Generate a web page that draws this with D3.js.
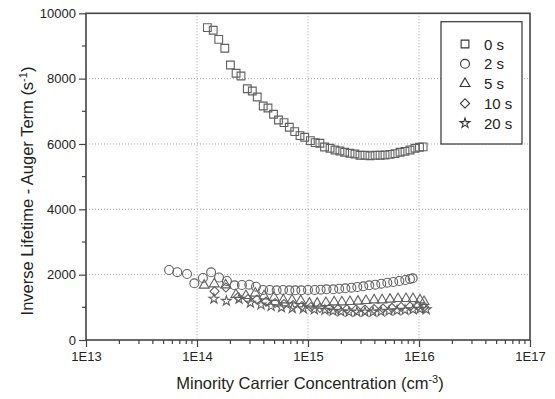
<!DOCTYPE html>
<html><head><meta charset="utf-8">
<script src="https://cdn.jsdelivr.net/npm/d3@7"></script>
<style>
html,body{margin:0;padding:0;background:#fff;}
svg text{font-family:"Liberation Sans",Arial,sans-serif;fill:#222;}
</style></head>
<body><svg id="c" width="555" height="399"></svg>
<script>
// ---- data ----
const xTicks = [1e13, 1e14, 1e15, 1e16, 1e17];
const xTickLabels = ["1E13", "1E14", "1E15", "1E16", "1E17"];
const yTicks = [0, 2000, 4000, 6000, 8000, 10000];
const seriesNames = ["0 s", "2 s", "5 s", "10 s", "20 s"];

const s0x = [1.24e14,1.40e14,1.57e14,1.78e14,2.00e14,2.25e14,2.49e14,2.84e14,3.15e14,3.49e14,3.95e14,4.36e14,4.89e14,5.42e14,6.08e14,6.79e14,7.59e14,8.47e14,9.34e14,1.05e15,1.16e15,1.28e15,1.41e15,1.58e15,1.75e15,1.94e15,2.14e15,2.39e15,2.65e15,2.94e15,3.26e15,3.62e15,4.02e15,4.46e15,4.94e15,5.48e15,6.08e15,6.75e15,7.48e15,8.30e15,9.21e15,1.01e16,1.09e16];
const s0y = [9560,9480,9204,8929,8418,8164,8081,7692,7622,7438,7163,7102,6909,6734,6652,6511,6376,6254,6205,6101,6040,6021,5908,5868,5816,5786,5746,5715,5694,5654,5654,5641,5654,5654,5663,5684,5703,5746,5776,5816,5868,5899,5910];

const s2x = [5.60e13,6.65e13,8.13e13,9.46e13,1.13e14,1.34e14,1.58e14,1.86e14,2.18e14,2.54e14,2.96e14,3.40e14,3.94e14,4.52e14,5.22e14,5.96e14,6.79e14,7.69e14,8.71e14,1.00e15,1.15e15,1.30e15,1.47e15,1.69e15,1.91e15,2.17e15,2.46e15,2.78e15,3.15e15,3.56e15,4.04e15,4.57e15,5.18e15,5.86e15,6.65e15,7.53e15,8.30e15,8.77e15];
const s2y = [2143,2075,2020,1736,1898,2072,1913,1806,1674,1684,1693,1632,1531,1531,1521,1531,1521,1521,1521,1531,1531,1540,1552,1552,1570,1583,1601,1622,1644,1674,1693,1723,1754,1775,1806,1837,1867,1889];

const s5x = [1.16e14,1.43e14,1.81e14,2.24e14,2.76e14,3.35e14,4.02e14,4.94e14,6.00e14,7.18e14,8.60e14,1.03e15,1.21e15,1.45e15,1.72e15,2.02e15,2.39e15,2.82e15,3.33e15,3.94e15,4.65e15,5.48e15,6.47e15,7.64e15,8.83e15,1.02e16,1.11e16];
const s5y = [1674,1714,1684,1387,1356,1430,1347,1301,1224,1224,1203,1123,1123,1142,1163,1163,1172,1185,1203,1224,1224,1246,1264,1264,1264,1224,1172];

const s10x = [1.44e14,1.82e14,2.34e14,2.88e14,3.47e14,4.19e14,5.05e14,6.08e14,7.33e14,8.83e14,1.06e15,1.28e15,1.55e15,1.86e15,2.24e15,2.71e15,3.26e15,3.94e15,4.74e15,5.71e15,6.89e15,8.30e15,9.80e15,1.11e16];
const s10y = [1491,1607,1316,1255,1240,1178,1133,1102,1071,1041,1010,980,964,949,940,934,934,949,964,980,1010,1025,1041,1010];

const s20x = [1.42e14,1.84e14,2.39e14,3.03e14,3.77e14,4.65e14,5.77e14,7.22e14,9.08e14,1.14e15,1.42e15,1.68e15,1.98e15,2.34e15,2.76e15,3.26e15,3.85e15,4.55e15,5.37e15,6.34e15,7.48e15,8.83e15,1.02e16,1.16e16];
const s20y = [1261,1194,1255,1139,1081,1035,995,970,964,934,918,888,872,857,857,857,857,872,888,903,918,934,949,934];

// ---- chart ----
const svg = d3.select("#c");
const L = 86, R = 530, T = 13.3, B = 340;
const x = d3.scaleLog().domain([1e13, 1e17]).range([L, R]);
const y = d3.scaleLinear().domain([0, 10000]).range([B, T]);
const axisCol = "#444", markCol = "#606060";

// grid
const g = svg.append("g");
g.selectAll("line.gx").data(xTicks.slice(1, -1)).join("line")
  .attr("x1", d => x(d)).attr("x2", d => x(d)).attr("y1", T).attr("y2", B)
  .attr("stroke", "#aaa").attr("stroke-width", 1).attr("stroke-dasharray", "1,2");
g.selectAll("line.gy").data(yTicks.slice(1, -1)).join("line")
  .attr("y1", d => y(d)).attr("y2", d => y(d)).attr("x1", L).attr("x2", R)
  .attr("stroke", "#aaa").attr("stroke-width", 1).attr("stroke-dasharray", "1,2");

// minor ticks
const xMinor = [];
for (let e = 13; e < 17; e++) for (let m = 2; m <= 9; m++) xMinor.push(m * Math.pow(10, e));
svg.append("g").selectAll("line").data(xMinor).join("line")
  .attr("x1", d => x(d)).attr("x2", d => x(d)).attr("y1", B).attr("y2", B + 4)
  .attr("stroke", axisCol).attr("stroke-width", 1.2);
const yMinor = [1000, 3000, 5000, 7000, 9000];
svg.append("g").selectAll("line").data(yMinor).join("line")
  .attr("y1", d => y(d)).attr("y2", d => y(d)).attr("x1", L).attr("x2", L - 4)
  .attr("stroke", axisCol).attr("stroke-width", 1.2);

// axes
const xAxis = d3.axisBottom(x).tickValues(xTicks).tickSize(7).tickPadding(5)
  .tickFormat((d, i) => xTickLabels[i]);
const xa = svg.append("g").attr("transform", `translate(0,${B})`).call(xAxis);
const yAxis = d3.axisLeft(y).tickValues(yTicks).tickSize(7).tickPadding(3).tickFormat(d3.format("d"));
const ya = svg.append("g").attr("transform", `translate(${L},0)`).call(yAxis);
[xa, ya].forEach(a => {
  a.select(".domain").remove();
  a.selectAll(".tick line").attr("stroke", axisCol).attr("stroke-width", 1.2);
  a.selectAll(".tick text").attr("font-size", 13).attr("fill", "#222")
    .style("font-family", '"Liberation Sans", Arial, sans-serif');
});

// frame
svg.append("rect").attr("x", L).attr("y", T).attr("width", R - L).attr("height", B - T)
  .attr("fill", "none").attr("stroke", axisCol).attr("stroke-width", 1.6);

// axis titles
const xt = svg.append("text").attr("x", (L + R) / 2 + 2).attr("y", 389)
  .attr("text-anchor", "middle").attr("font-size", 16.5);
xt.append("tspan").text("Minority Carrier Concentration (cm");
xt.append("tspan").attr("dy", -6).attr("font-size", 11).text("-3");
xt.append("tspan").attr("dy", 6).text(")");

const yt = svg.append("text").attr("transform", "translate(33,191) rotate(-90)")
  .attr("text-anchor", "middle").attr("font-size", 16.5);
yt.append("tspan").text("Inverse Lifetime - Auger Term (s");
yt.append("tspan").attr("dy", -6).attr("font-size", 11).text("-1");
yt.append("tspan").attr("dy", 6).text(")");

// symbols
const symGen = [
  d3.symbol().type(d3.symbolSquare).size(60),
  d3.symbol().type(d3.symbolCircle).size(62),
  d3.symbol().type(d3.symbolTriangle).size(42),
  d3.symbol().type(d3.symbolSquare).size(42),
  d3.symbol().type(d3.symbolStar).size(30)
];
const rot = [0, 0, 0, 45, 0];
const series = [[s0x, s0y], [s2x, s2y], [s5x, s5y], [s10x, s10y], [s20x, s20y]];

series.forEach((s, k) => {
  const pts = s[0].map((v, i) => [v, s[1][i]]);
  svg.append("g").selectAll("path").data(pts).join("path")
    .attr("d", symGen[k]())
    .attr("transform", d => `translate(${x(d[0])},${y(d[1])}) rotate(${rot[k]})`)
    .attr("fill", "none").attr("stroke", markCol).attr("stroke-width", 1.1);
});

// legend
const lg = svg.append("g");
lg.append("rect").attr("x", 441).attr("y", 21.7).attr("width", 81).attr("height", 122.3)
  .attr("fill", "#fff").attr("stroke", "#333").attr("stroke-width", 1.2);
seriesNames.forEach((n, k) => {
  const cy = 44 + k * 19.8;
  lg.append("path").attr("d", symGen[k]())
    .attr("transform", `translate(465,${cy}) rotate(${rot[k]})`)
    .attr("fill", "none").attr("stroke", "#333").attr("stroke-width", 1.1);
  lg.append("text").attr("x", 484).attr("y", cy + 5.5).attr("font-size", 15).text(n);
});
</script></body></html>
